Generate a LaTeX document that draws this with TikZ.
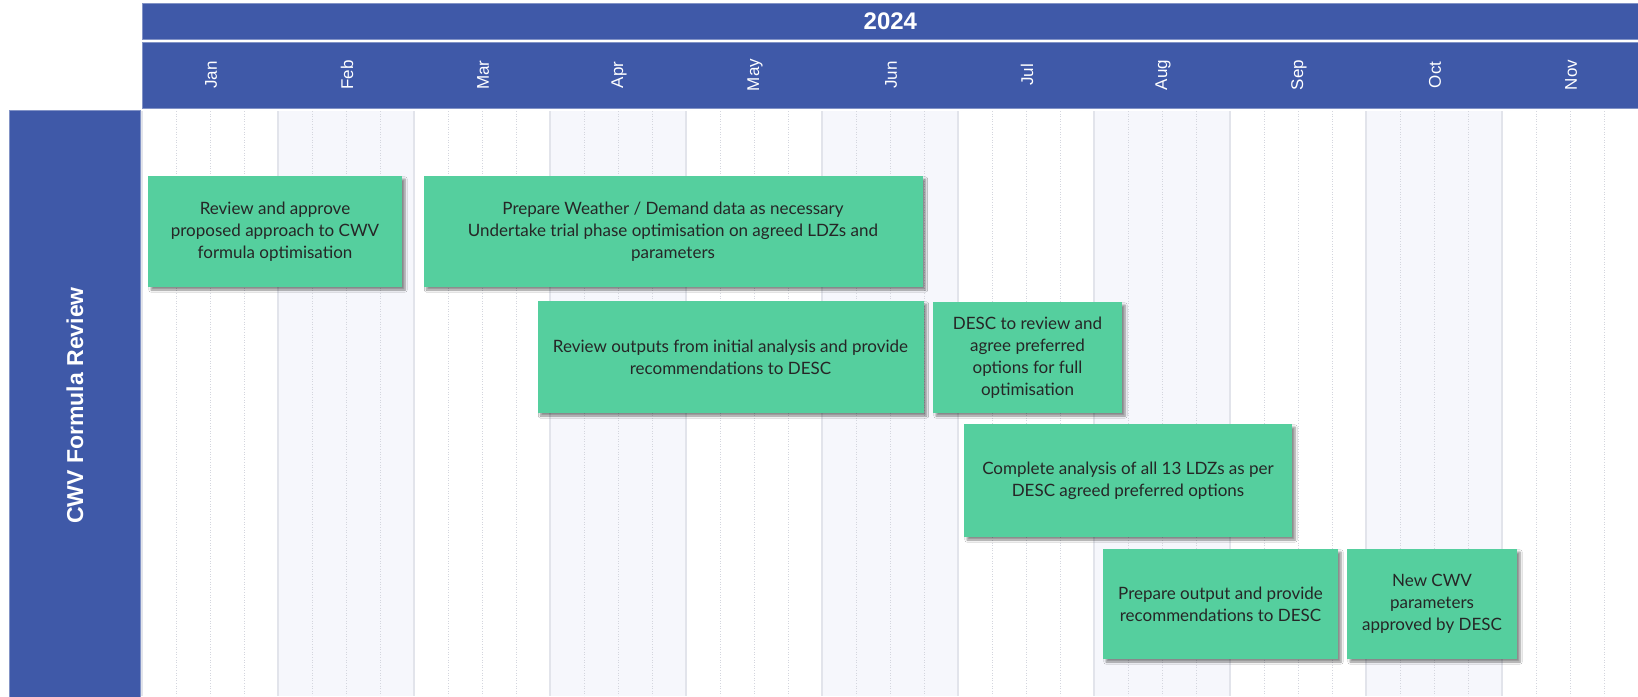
\documentclass[tikz,border=0pt]{standalone}
\usepackage{fontspec}
\setmainfont{Liberation Sans}
\newfontfamily\taskfont{Lato}
\usepackage{tikz}
\usetikzlibrary{calc,shadows.blur}
\definecolor{barblue}{RGB}{63,89,168}
\definecolor{taskgreen}{RGB}{85,207,158}
\definecolor{monthshade}{RGB}{246,247,252}
\definecolor{gridgray}{RGB}{226,228,235}
\definecolor{weekgray}{RGB}{212,214,222}
\tikzstyle{headbar}=[rectangle,fill=barblue,draw=barblue!65!white,line width=0.8pt,
                     inner sep=0pt,text=white]
\tikzstyle{monthlabel}=[text=white,font=\fontsize{17}{17}\selectfont,rotate=90]
\tikzstyle{taskbox}=[rectangle,fill=taskgreen,inner sep=0pt,align=center,text=black!85,
                     font=\taskfont\fontsize{17}{22}\selectfont,
                     blur shadow={shadow xshift=3pt,shadow yshift=-3pt,shadow blur steps=6,shadow opacity=45}]
\tikzstyle{monthline}=[draw=gridgray,line width=2pt]
\tikzstyle{weekline}=[draw=weekgray,line width=0.6pt,dotted]
\newcommand\gridx{142}
\newcommand\gridtop{111}
\newcommand\monthw{136}

\begin{document}
\begin{tikzpicture}[x=1pt,y=-1pt]
    \useasboundingbox (0,0) rectangle (1638,696);
    \fill[white] (0,0) rectangle (1638,696);
    % months: shading, week and month lines, labels
    \foreach \m [count=\i from 0] in {Jan,Feb,Mar,Apr,May,Jun,Jul,Aug,Sep,Oct,Nov}{
        \pgfmathsetmacro\xl{\gridx+\monthw*\i}
        \ifodd\i
            \fill[monthshade] (\xl,\gridtop) rectangle ++(\monthw,585);
        \fi
        \foreach \q in {1,2,3}{
            \draw[weekline] (\xl+\q*34,\gridtop) -- (\xl+\q*34,696);
        }
        \draw[monthline] (\xl,\gridtop) -- (\xl,696);
    }
    \node[headbar,anchor=north west,minimum width=1496pt,minimum height=36pt] (year) at (\gridx,3)
        {\bfseries\fontsize{24}{24}\selectfont 2024};
    \node[headbar,anchor=north west,minimum width=1496pt,minimum height=66pt] (months) at (\gridx,42) {};
    \foreach \m [count=\i from 0] in {Jan,Feb,Mar,Apr,May,Jun,Jul,Aug,Sep,Oct,Nov}{
        \node[monthlabel] (m\i) at (\gridx+\monthw*\i+69,75) {\m};
    }
    \node[headbar,anchor=north west,minimum width=131pt,minimum height=590pt] (lane) at (9,110) {};
    \node[text=white,rotate=90,font=\bfseries\fontsize{23}{23}\selectfont] (lanelabel) at (lane.center) {CWV Formula Review};

    % tasks
    \node[taskbox,minimum width=254pt,minimum height=111pt] (approve) at (275,231.5)
        {Review and approve\\proposed approach to CWV\\formula optimisation};
    \node[taskbox,minimum width=499pt,minimum height=111pt] (prepare) at (673,231.5)
        {Prepare Weather / Demand data as necessary\\Undertake trial phase optimisation on agreed LDZs and\\parameters};
    \node[taskbox,minimum width=386pt,minimum height=112pt] (outputs) at (730.5,357)
        {Review outputs from initial analysis and provide\\recommendations to DESC};
    \node[taskbox,minimum width=189pt,minimum height=111pt] (descreview) at (1027.5,357.5)
        {DESC to review and\\agree preferred\\options for full\\optimisation};
    \node[taskbox,minimum width=328pt,minimum height=113pt] (complete) at (1128,480.5)
        {Complete analysis of all 13 LDZs as per\\DESC agreed preferred options};
    \node[taskbox,minimum width=235pt,minimum height=110pt] (recommend) at (1220.5,604)
        {Prepare output and provide\\recommendations to DESC};
    \node[taskbox,minimum width=170pt,minimum height=110pt] (approved) at (1432,604)
        {New CWV\\parameters\\approved by DESC};
\end{tikzpicture}
\end{document}
